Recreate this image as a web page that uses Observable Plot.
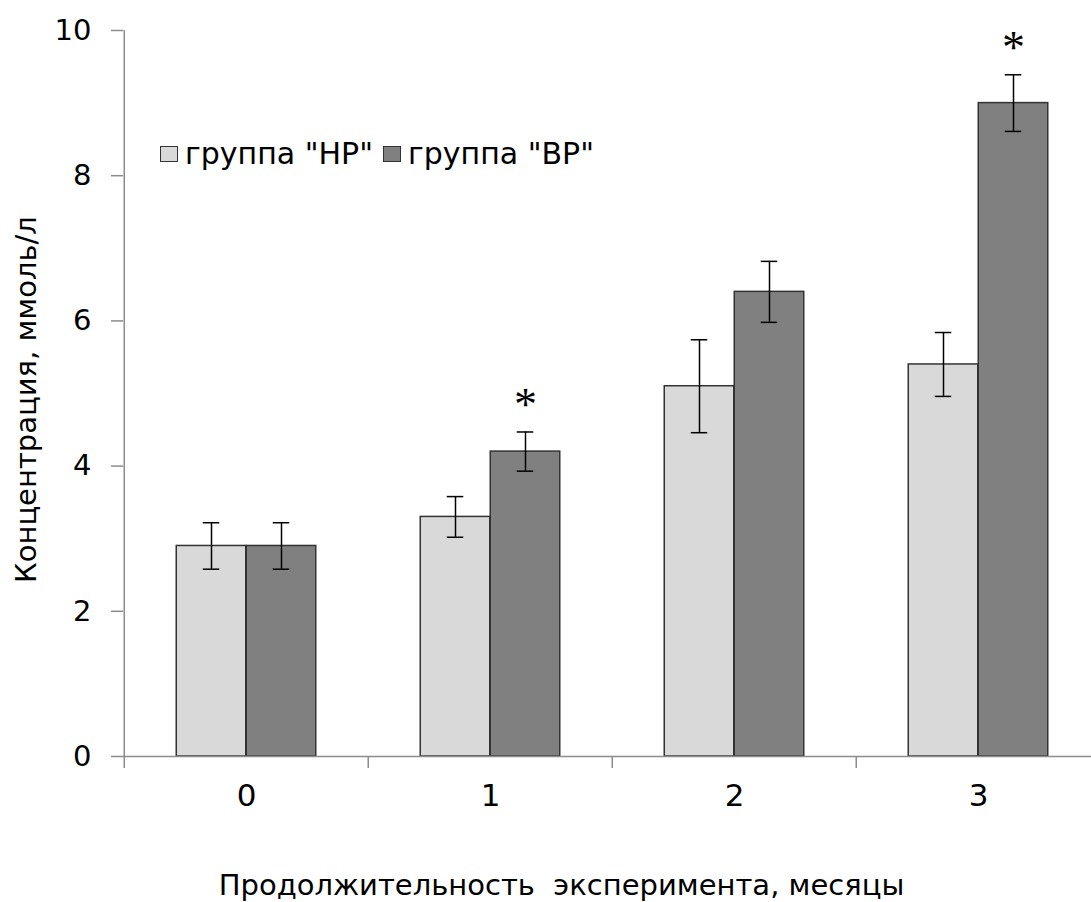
<!DOCTYPE html>
<html>
<head>
<meta charset="utf-8">
<script src="https://cdn.jsdelivr.net/npm/d3@7"></script>
<script src="https://cdn.jsdelivr.net/npm/@observablehq/plot@0.6"></script>
<style>
  html, body { margin: 0; padding: 0; background: #fff; overflow: hidden; }
  #wrap { position: relative; width: 1091px; height: 902px; font-family: "DejaVu Sans", sans-serif; }
  #legend { position: absolute; left: 160px; top: 136px; display: flex; align-items: center; font-size: 30px; color: #000; white-space: pre; }
  .sw { display: inline-block; width: 16px; height: 14px; border: 1.5px solid #333; margin-right: 7px; }
  .item { display: flex; align-items: center; margin-right: 10px; }
</style>
</head>
<body>
<div id="wrap"><div id="legend"></div></div>
<script>
// ---- data ----
const periods = ["0", "1", "2", "3"];
const groupNames = ['группа "НР"', 'группа "ВР"'];
const meanHP = [2.9, 3.3, 5.1, 5.4];
const errHP = [0.32, 0.28, 0.64, 0.44];
const meanBP = [2.9, 4.2, 6.4, 9.0];
const errBP = [0.32, 0.27, 0.42, 0.39];
const sigBP = [false, true, false, true];
const yTicks = [0, 2, 4, 6, 8, 10];
const groupColors = ["#d9d9d9", "#808080"];
const xTitle = "Продолжительность  эксперимента, месяцы";
const yTitle = "Концентрация, ммоль/л";

// ---- layout ----
const W = 1091, H = 902;
const mL = 123, mT = 30, mB = 146;
const xRange = [123, 1101];
const bw = (xRange[1] - xRange[0]) / periods.length;
const barW = 70, capW = 17;
const FONT = "'DejaVu Sans', sans-serif";

const hp = periods.map((p, i) => ({period: p, mean: meanHP[i], err: errHP[i]}));
const bp = periods.map((p, i) => ({period: p, mean: meanBP[i], err: errBP[i], sig: sigBP[i]}));

const capInset = (off) => ({insetLeft: bw / 2 + off - capW / 2, insetRight: bw / 2 - off - capW / 2});

const chart = Plot.plot({
  width: W, height: H,
  marginLeft: mL, marginRight: 0, marginTop: mT, marginBottom: mB,
  style: {fontFamily: FONT, color: "#000", background: "#fff"},
  x: {domain: periods, range: xRange, padding: 0, label: null},
  y: {domain: [0, 10], label: null},
  marks: [
    // bars
    Plot.barY(hp, {x: "period", y: "mean", fill: groupColors[0], stroke: "#333", strokeWidth: 1.5,
      insetLeft: bw / 2 - barW, insetRight: bw / 2}),
    Plot.barY(bp, {x: "period", y: "mean", fill: groupColors[1], stroke: "#333", strokeWidth: 1.5,
      insetLeft: bw / 2, insetRight: bw / 2 - barW}),
    // error bars
    Plot.ruleX(hp, {x: "period", y1: d => d.mean - d.err, y2: d => d.mean + d.err, dx: -barW / 2, stroke: "#000", strokeWidth: 1.5}),
    Plot.tickY(hp, {x: "period", y: d => d.mean + d.err, ...capInset(-barW / 2), stroke: "#000", strokeWidth: 1.5}),
    Plot.tickY(hp, {x: "period", y: d => d.mean - d.err, ...capInset(-barW / 2), stroke: "#000", strokeWidth: 1.5}),
    Plot.ruleX(bp, {x: "period", y1: d => d.mean - d.err, y2: d => d.mean + d.err, dx: barW / 2, stroke: "#000", strokeWidth: 1.5}),
    Plot.tickY(bp, {x: "period", y: d => d.mean + d.err, ...capInset(barW / 2), stroke: "#000", strokeWidth: 1.5}),
    Plot.tickY(bp, {x: "period", y: d => d.mean - d.err, ...capInset(barW / 2), stroke: "#000", strokeWidth: 1.5}),
    // significance asterisks
    Plot.text(bp.filter(d => d.sig), {x: "period", y: d => d.mean + d.err, text: () => "*", dx: barW / 2, dy: -27,
      fontSize: 46, fontFamily: "'Liberation Serif', 'Times New Roman', serif", lineAnchor: "middle", fill: "#000"}),
    // axes lines
    Plot.ruleY([0], {stroke: "#8c8c8c", strokeWidth: 1.5}),
    Plot.ruleX([periods[0]], {x: d => d, y1: 0, y2: 10, dx: -bw / 2, stroke: "#8c8c8c", strokeWidth: 1.5}),
    // y axis
    Plot.axisY({ticks: yTicks, tickSize: 12, tickFormat: () => "", color: "#8c8c8c", strokeWidth: 1.5, label: null}),
    Plot.axisY({ticks: yTicks, tickSize: 0, tickPadding: 32, fontSize: 29, color: "#000", label: null}),
    // x axis
    Plot.axisX({tickSize: 12, tickFormat: () => "", dx: -bw / 2, color: "#8c8c8c", strokeWidth: 1.5, label: null}),
    Plot.axisX({tickSize: 0, tickPadding: 27, fontSize: 31, color: "#000", label: null}),
    // axis titles
    Plot.text([xTitle], {text: d => d, frameAnchor: "bottom", dx: -46, dy: 129, fontSize: 29, textAnchor: "middle", lineAnchor: "middle", fill: "#000"}),
    Plot.text([yTitle], {text: d => d, frameAnchor: "left", rotate: -90, dx: -97, dy: 6, fontSize: 29, textAnchor: "middle", lineAnchor: "middle", fill: "#000"})
  ]
});

const wrap = document.getElementById("wrap");
wrap.insertBefore(chart, wrap.firstChild);

const legend = document.getElementById("legend");
groupNames.forEach((name, i) => {
  const item = document.createElement("div");
  item.className = "item";
  const sw = document.createElement("span");
  sw.className = "sw";
  sw.style.background = groupColors[i];
  const tx = document.createElement("span");
  tx.textContent = name;
  item.appendChild(sw);
  item.appendChild(tx);
  legend.appendChild(item);
});
</script>
</body>
</html>
